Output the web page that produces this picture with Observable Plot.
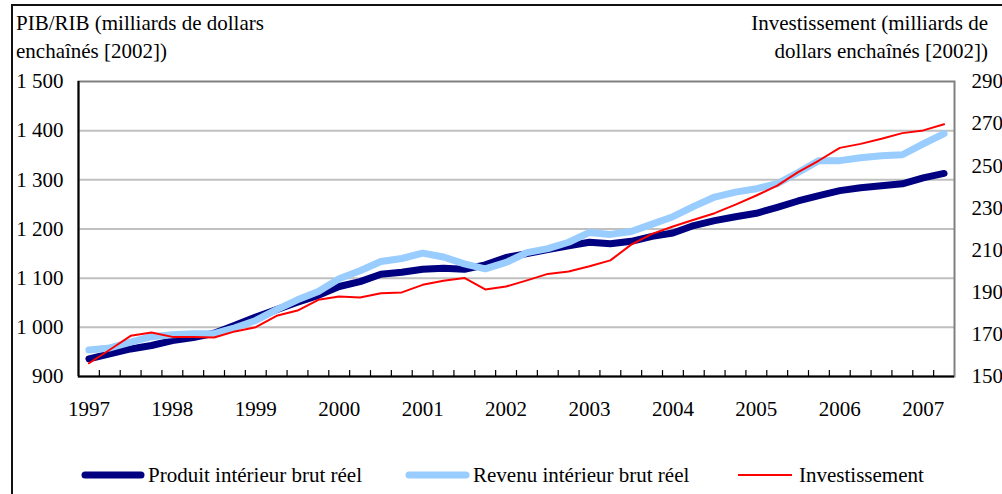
<!DOCTYPE html>
<html>
<head>
<meta charset="utf-8">
<script src="https://cdn.jsdelivr.net/npm/d3@7"></script>
<script src="https://cdn.jsdelivr.net/npm/@observablehq/plot@0.6"></script>
<style>
  html, body { margin: 0; padding: 0; background: #fff; overflow: hidden; }
  #wrap { position: relative; width: 1002px; height: 494px; overflow: hidden; font-family: "Liberation Serif", "Times New Roman", serif; color: #000; }
  #border { position: absolute; left: 11px; top: 4px; width: 1200px; height: 800px; border: 2px solid #111; box-sizing: border-box; }
  .title { position: absolute; top: 9px; font-size: 21px; line-height: 28px; white-space: nowrap; }
  #tl { left: 16px; text-align: left; }
  #tr { right: 14px; text-align: right; }
  #chart { position: absolute; left: 0; top: 0; }
  #legend { position: absolute; left: 0; top: 462px; width: 1002px; height: 26px; font-size: 21px; }
  .item { position: absolute; top: 0; height: 26px; display: flex; align-items: center; white-space: nowrap; }
  .item svg { margin-right: 3px; }
</style>
</head>
<body>
<div id="wrap">
  <div id="border"></div>
  <div class="title" id="tl">PIB/RIB (milliards de dollars<br>enchaînés [2002])</div>
  <div class="title" id="tr">Investissement (milliards de<br>dollars enchaînés [2002])</div>
  <div id="chart"></div>
  <div id="legend"></div>
</div>
<script>
// ---- Data (quarterly, 1997T1 .. 2007T2) ----
const quarters = [
  "1997T1","1997T2","1997T3","1997T4","1998T1","1998T2","1998T3","1998T4",
  "1999T1","1999T2","1999T3","1999T4","2000T1","2000T2","2000T3","2000T4",
  "2001T1","2001T2","2001T3","2001T4","2002T1","2002T2","2002T3","2002T4",
  "2003T1","2003T2","2003T3","2003T4","2004T1","2004T2","2004T3","2004T4",
  "2005T1","2005T2","2005T3","2005T4","2006T1","2006T2","2006T3","2006T4",
  "2007T1","2007T2"
];
// Produit intérieur brut réel (left axis)
const pib = [
  936, 946, 956, 963, 973, 979, 988, 1004,
  1021, 1036, 1051, 1065, 1083, 1093, 1108, 1112,
  1118, 1120, 1118, 1127, 1142, 1150, 1158, 1166,
  1173, 1170, 1175, 1185, 1192, 1207, 1217, 1225,
  1232, 1244, 1257, 1268, 1278, 1284, 1288, 1292,
  1304, 1313
];
// Revenu intérieur brut réel (left axis)
const rib = [
  954, 958, 970, 981, 985, 987, 987, 999,
  1014, 1036, 1056, 1073, 1099, 1115, 1134, 1140,
  1151, 1143, 1129, 1119, 1132, 1152, 1160, 1173,
  1193, 1189, 1195, 1210, 1225, 1246, 1265, 1275,
  1282, 1292, 1315, 1339, 1339, 1345, 1349, 1351,
  1373, 1394
];
// Investissement (right axis)
const invest = [
  156.3, 162.7, 169.3, 170.9, 168.8, 168.8, 168.5, 171.4,
  173.4, 178.8, 181.3, 186.4, 188.0, 187.5, 189.5, 189.9,
  193.5, 195.4, 196.8, 191.3, 192.7, 195.6, 198.7, 199.8,
  202.3, 205.1, 212.6, 217.7, 221.2, 224.4, 227.5, 231.6,
  235.9, 240.6, 247.0, 252.5, 258.5, 260.4, 262.8, 265.5,
  266.8, 269.7
];
const yearLabels = ["1997","1998","1999","2000","2001","2002","2003","2004","2005","2006","2007"];
const leftTicks = [900, 1000, 1100, 1200, 1300, 1400, 1500];
const leftTickLabels = ["900","1 000","1 100","1 200","1 300","1 400","1 500"];
const rightTicks = [150, 170, 190, 210, 230, 250, 270, 290];
const seriesNames = ["Produit intérieur brut réel", "Revenu intérieur brut réel", "Investissement"];
const seriesColors = ["#000080", "#99ccff", "#ff0000"];

// ---- Dual axis mapping (right scale 150..290 onto left 900..1500) ----
const L0 = 900, L1 = 1500, R0 = 150, R1 = 290;
const toLeft = v => L0 + (v - R0) * (L1 - L0) / (R1 - R0);
const fromLeft = v => R0 + (v - L0) * (R1 - R0) / (L1 - L0);

const pibData = pib.map((v, i) => ({i, q: quarters[i], v}));
const ribData = rib.map((v, i) => ({i, q: quarters[i], v}));
const invData = invest.map((v, i) => ({i, q: quarters[i], v: toLeft(v)}));
const yearIdx = yearLabels.map(y => quarters.indexOf(y + "T1"));
const boundaries = quarters.slice(1).map((q, i) => i + 0.5);

const plot = Plot.plot({
  width: 1002,
  height: 440,
  marginLeft: 78,
  marginRight: 48,
  marginTop: 81,
  marginBottom: 64,
  style: {fontFamily: "Liberation Serif, Times New Roman, serif", fontSize: "21px", color: "#000", background: "transparent", overflow: "visible"},
  x: {type: "linear", domain: [-0.5, quarters.length - 0.5]},
  y: {domain: [L0, L1]},
  marks: [
    Plot.ruleY(leftTicks.slice(1, -1), {stroke: "#c0c0c0", strokeWidth: 2}),
    Plot.frame({stroke: "#808080", strokeWidth: 2}),
    Plot.ruleX([-0.5], {stroke: "#000", strokeWidth: 2}),
    Plot.ruleY([L0], {stroke: "#000", strokeWidth: 2}),
    Plot.ruleX(boundaries, {y1: L0, y2: L0 + 12, stroke: "#000", strokeWidth: 1.2}),
    Plot.line(pibData, {x: "i", y: "v", stroke: seriesColors[0], strokeWidth: 7, strokeLinecap: "round", strokeLinejoin: "round"}),
    Plot.line(ribData, {x: "i", y: "v", stroke: seriesColors[1], strokeWidth: 7, strokeLinecap: "round", strokeLinejoin: "round"}),
    Plot.line(invData, {x: "i", y: "v", stroke: seriesColors[2], strokeWidth: 2, strokeLinejoin: "round"}),
    Plot.axisY({anchor: "left", ticks: leftTicks, tickSize: 0, tickPadding: 15, label: null,
      tickFormat: d => leftTickLabels[leftTicks.indexOf(d)], fontSize: 21}),
    Plot.axisY({anchor: "right", ticks: rightTicks.map(toLeft), tickSize: 0, tickPadding: 17, label: null,
      tickFormat: d => String(Math.round(fromLeft(d))), fontSize: 21}),
    Plot.axisX({anchor: "bottom", ticks: yearIdx, tickSize: 0, tickPadding: 25, label: null,
      tickFormat: d => yearLabels[yearIdx.indexOf(d)], fontSize: 21})
  ]
});
document.getElementById("chart").appendChild(plot);

// ---- Legend ----
const legendPos = [
  {x: 85, w: 56},
  {x: 409, w: 57},
  {x: 738, w: 54}
];
const widths = [7, 7, 2];
const leg = document.getElementById("legend");
seriesNames.forEach((name, k) => {
  const item = document.createElement("div");
  item.className = "item";
  item.style.left = (legendPos[k].x - 4) + "px";
  const w = legendPos[k].w + 8;
  item.innerHTML = `<svg width="${w}" height="26"><line x1="4" x2="${w - 4}" y1="13" y2="13" stroke="${seriesColors[k]}" stroke-width="${widths[k]}" stroke-linecap="${k < 2 ? "round" : "butt"}"/></svg><span>${name}</span>`;
  leg.appendChild(item);
});
</script>
</body>
</html>
